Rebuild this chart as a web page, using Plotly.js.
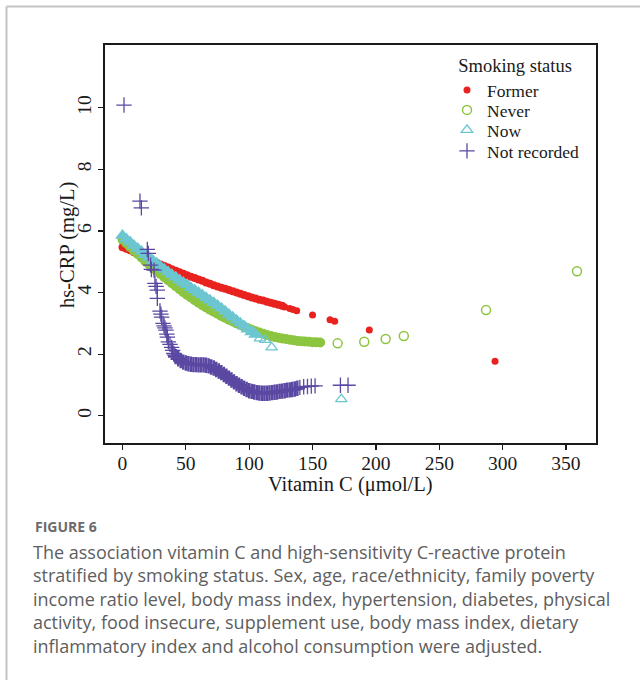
<!DOCTYPE html>
<html>
<head>
<meta charset="utf-8">
<script src="https://cdn.plot.ly/plotly-3.0.1.min.js"></script>
<style>
  html, body { margin: 0; padding: 0; background: #ffffff; }
  #chart { width: 640px; height: 680px; }
</style>
</head>
<body>
<div id="chart"></div>
<script>
// ---------- Data ----------
const seriesNames = ["Former", "Never", "Now", "Not recorded"];

// Former (dense band + scattered points)
const formerBandX = [0,3,6,9,12,15,18,21,24,27,30,33,36,39,42,45,48,51,54,57,60,63,66,69,72,75,78,81,84,87,90,93,96,99,102,105,108,111,114,117,120,123,126];
const formerBandY = [5.47,5.42,5.37,5.31,5.25,5.19,5.13,5.08,5.02,4.97,4.91,4.86,4.81,4.76,4.71,4.66,4.61,4.56,4.51,4.47,4.42,4.38,4.33,4.29,4.24,4.20,4.16,4.12,4.08,4.04,4.00,3.96,3.92,3.88,3.84,3.81,3.77,3.74,3.70,3.67,3.64,3.60,3.57];
const formerPtsX = [128,132,134.5,137.5,150,163.8,167.5,194.8,294];
const formerPtsY = [3.53,3.48,3.45,3.41,3.27,3.12,3.07,2.78,1.77];

// Never
const neverBandX = [0,3,6,9,12,15,18,21,24,27,30,33,36,39,42,45,48,51,54,57,60,63,66,69,72,75,78,81,84,87,90,93,96,99,102,105,108,111,114,117,120,123,126,129,132,135,138,141,144,147,150,153,156];
const neverBandY = [5.72,5.60,5.48,5.36,5.25,5.14,5.02,4.91,4.81,4.70,4.60,4.50,4.40,4.30,4.21,4.11,4.01,3.92,3.84,3.75,3.67,3.59,3.52,3.44,3.38,3.31,3.24,3.18,3.12,3.06,3.00,2.95,2.89,2.84,2.79,2.74,2.70,2.66,2.62,2.59,2.56,2.53,2.51,2.49,2.47,2.45,2.43,2.42,2.41,2.40,2.39,2.385,2.38];
const neverPtsX = [169.8,190.8,207.7,222,286.9,358.7];
const neverPtsY = [2.35,2.40,2.49,2.59,3.43,4.69];

// Now
const nowBandX = [0,3,6,9,12,15,18,21,24,27,30,33,36,39,42,45,48,51,54,57,60,63,66,69,72,75,78,81,84,87,90,93,96,99,102,105];
const nowBandY = [5.85,5.74,5.64,5.53,5.43,5.33,5.23,5.14,5.04,4.95,4.85,4.76,4.67,4.58,4.50,4.41,4.33,4.25,4.16,4.08,4.00,3.92,3.83,3.75,3.67,3.58,3.49,3.39,3.29,3.20,3.10,3.00,2.91,2.81,2.72,2.64];
const nowPtsX = [103.2,108.5,112.5,117.7,172.7];
const nowPtsY = [2.73,2.51,2.46,2.22,0.54];

// Not recorded
const notrecBandX = [42,44,46,48,50,52,54,56,58,60,62,64,66,68,70,72,74,76,78,80,82,84,86,88,90,92,94,96,98,100,102,104,106,108,110,112,114,116,118,120,122,124,126,128,130,132,134,136,138];
const notrecBandY = [1.92,1.85,1.79,1.74,1.71,1.69,1.67,1.66,1.66,1.65,1.65,1.65,1.64,1.62,1.58,1.55,1.50,1.45,1.40,1.34,1.28,1.22,1.16,1.10,1.04,0.99,0.94,0.89,0.85,0.81,0.79,0.77,0.75,0.74,0.73,0.73,0.73,0.74,0.75,0.76,0.77,0.79,0.80,0.81,0.83,0.84,0.85,0.87,0.89];
const notrecPtsX = [1.2,13.8,14.9,19.6,20.4,22.2,22.8,24.9,25.6,26.5,27.5,27.5,29.6,30.3,30.9,32.0,32.8,33.5,34.3,35.0,35.4,36.2,37.5,38.8,39.6,40.5,41.4,140,143,146,149,152,172,178];
const notrecPtsY = [10.09,6.97,6.75,5.40,5.27,4.89,4.75,4.73,4.30,4.20,4.08,3.81,3.40,3.30,3.20,3.00,2.92,2.85,2.78,2.65,2.55,2.40,2.32,2.22,2.12,2.02,1.97,0.92,0.94,0.95,0.96,0.97,0.99,0.99];

// Axes
const xTicks = [0,50,100,150,200,250,300,350];
const yTicks = [0,2,4,6,8,10];
const xTitle = "Vitamin C (μmol/L)";
const yTitle = "hs-CRP (mg/L)";
const legendTitle = "Smoking status";
const figLabel = "FIGURE 6";
const captionLines = [
  "The association vitamin C and high-sensitivity C-reactive protein",
  "stratified by smoking status. Sex, age, race/ethnicity, family poverty",
  "income ratio level, body mass index, hypertension, diabetes, physical",
  "activity, food insecure, supplement use, body mass index, dietary",
  "inflammatory index and alcohol consumption were adjusted."
];

// ---------- Styles ----------
const colRed = "#e8231f";
const colGreen = "#8cc540";
const colCyan = "#6cc6d2";
const colPurple = "#5a48a2";
const serif = "Liberation Serif, Times New Roman, serif";
const ink = "#1a1a1a";

const traces = [
  { x: formerBandX, y: formerBandY, type: "scatter", mode: "markers", showlegend: false, hoverinfo: "skip",
    marker: { symbol: "circle", size: 8, color: colRed } },
  { x: neverBandX, y: neverBandY, type: "scatter", mode: "markers", showlegend: false, hoverinfo: "skip",
    marker: { symbol: "circle", size: 10, color: colGreen } },
  { x: nowBandX, y: nowBandY, type: "scatter", mode: "markers", showlegend: false, hoverinfo: "skip",
    marker: { symbol: "triangle-up", size: 13, color: colCyan } },
  { x: notrecBandX, y: notrecBandY, type: "scatter", mode: "markers", showlegend: false, hoverinfo: "skip",
    marker: { symbol: "cross-thin-open", size: 11, color: colPurple, line: { color: colPurple, width: 2.5 } } },

  { x: formerPtsX, y: formerPtsY, name: seriesNames[0], type: "scatter", mode: "markers", legend: "legend",
    marker: { symbol: "circle", size: 7, color: colRed } },
  { x: neverPtsX, y: neverPtsY, name: seriesNames[1], type: "scatter", mode: "markers", legend: "legend2",
    marker: { symbol: "circle-open", size: 9, color: colGreen, line: { color: colGreen, width: 1.5 } } },
  { x: nowPtsX, y: nowPtsY, name: seriesNames[2], type: "scatter", mode: "markers", legend: "legend3",
    marker: { symbol: "triangle-up-open", size: 10, color: colCyan, line: { color: colCyan, width: 1.3 } } },
  { x: notrecPtsX, y: notrecPtsY, name: seriesNames[3], type: "scatter", mode: "markers", legend: "legend4",
    marker: { symbol: "cross-thin-open", size: 11, color: colPurple, line: { color: colPurple, width: 1.3 } } }
];

// plot area in px: left 105, right 596, top 45, bottom 443
const PL = 105, PR = 596, PT = 45, PB = 443;
const px2x = p => (p - PL) / (PR - PL);
const px2y = p => (PB - p) / (PB - PT);

const annotations = [
  { text: xTitle, xref: "paper", yref: "paper", x: px2x(350.5), y: px2y(484),
    xanchor: "center", yanchor: "middle", showarrow: false,
    font: { family: serif, size: 20.5, color: ink } },
  { text: yTitle, xref: "paper", yref: "paper", x: px2x(68), y: px2y(245), textangle: -90,
    xanchor: "center", yanchor: "middle", showarrow: false,
    font: { family: serif, size: 20.5, color: ink } },
  { text: "<b>" + figLabel + "</b>", xref: "paper", yref: "paper", x: px2x(33), y: px2y(526),
    xanchor: "left", yanchor: "middle", showarrow: false,
    font: { family: "Open Sans, sans-serif", size: 14, color: "#6b6b6b" } },
  { text: captionLines.join("<br>"), xref: "paper", yref: "paper", x: px2x(31), y: px2y(538),
    xanchor: "left", yanchor: "top", align: "left", showarrow: false,
    font: { family: "Open Sans, sans-serif", size: 18, color: "#5e5e5e" } }
];

const legendFont = { family: serif, size: 17.5, color: ink };
const legendBase = { xanchor: "left", bgcolor: "rgba(0,0,0,0)", borderwidth: 0, font: legendFont, itemwidth: 30, tracegroupgap: 0 };
const LX = px2x(447);

const layout = {
  width: 640, height: 680,
  margin: { l: PL, r: 640 - PR, t: PT, b: 680 - PB },
  paper_bgcolor: "#ffffff", plot_bgcolor: "#ffffff",
  showlegend: true,
  xaxis: {
    range: [-13.8, 373.7], tickvals: xTicks, ticktext: xTicks.map(String),
    showline: true, mirror: true, linecolor: ink, linewidth: 1.6,
    ticks: "outside", ticklen: 5, tickwidth: 1.2, tickcolor: ink,
    showgrid: false, zeroline: false, ticklabelstandoff: -3,
    tickfont: { family: serif, size: 19.5, color: ink }
  },
  yaxis: {
    range: [-0.886, 12.04], tickvals: yTicks, ticktext: yTicks.map(String),
    showline: true, mirror: true, linecolor: ink, linewidth: 1.6,
    ticks: "outside", ticklen: 5, tickwidth: 1.2, tickcolor: ink,
    showgrid: false, zeroline: false, tickangle: -90,
    tickfont: { family: serif, size: 19.5, color: ink }
  },
  legend: Object.assign({}, legendBase, {
    x: LX, y: px2y(48), yanchor: "top",
    title: { text: "\u00a0\u00a0" + legendTitle, side: "top", font: { family: serif, size: 18.5, color: ink } }
  }),
  legend2: Object.assign({}, legendBase, { x: LX, y: px2y(110), yanchor: "middle" }),
  legend3: Object.assign({}, legendBase, { x: LX, y: px2y(130), yanchor: "middle" }),
  legend4: Object.assign({}, legendBase, { x: LX, y: px2y(151), yanchor: "middle" }),
  annotations: annotations,
  shapes: [
    { type: "line", xref: "paper", yref: "paper", x0: px2x(6.5), x1: px2x(660), y0: px2y(6.5), y1: px2y(6.5),
      line: { color: "#c4c4c4", width: 2 } },
    { type: "line", xref: "paper", yref: "paper", x0: px2x(6.5), x1: px2x(6.5), y0: px2y(6.5), y1: px2y(700),
      line: { color: "#c4c4c4", width: 2 } }
  ]
};

Plotly.newPlot("chart", traces, layout, { displayModeBar: false, staticPlot: true });
</script>
</body>
</html>
